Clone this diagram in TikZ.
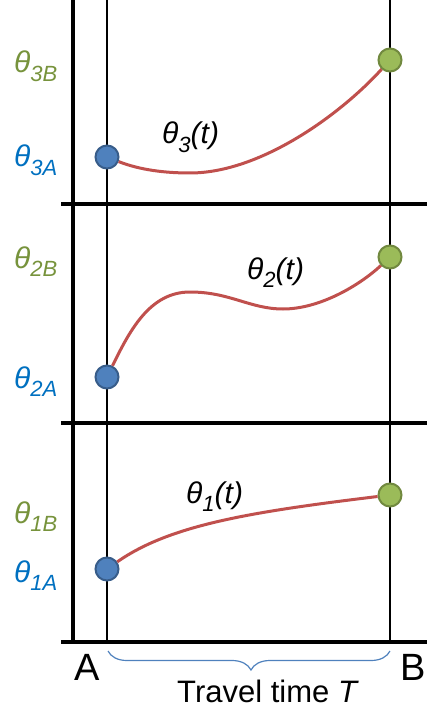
\documentclass[tikz,border=0pt]{standalone}
\usepackage{fontspec}
\setmainfont{Liberation Sans}
\usetikzlibrary{decorations.pathreplacing}

\definecolor{dotblue}{HTML}{4F81BD}
\definecolor{dotblueline}{HTML}{385D8A}
\definecolor{dotgreen}{HTML}{9BBB59}
\definecolor{dotgreenline}{HTML}{71893F}
\definecolor{curvered}{HTML}{C0504D}
\definecolor{labblue}{HTML}{0070C0}
\definecolor{labgreen}{HTML}{77933C}

\newcommand{\thlab}[1]{\textit{θ}\raisebox{-0.28em}{\fontsize{22}{22}\selectfont\textit{#1}}}
\newcommand{\thfun}[1]{\textit{θ\raisebox{-0.28em}{\fontsize{22}{22}\selectfont #1}(t)}}

\begin{document}
\begin{tikzpicture}[x=1pt, y=-1pt,
  startdot/.style={circle, fill=dotblue, draw=dotblueline, line width=2pt, minimum size=23pt, inner sep=0pt},
  enddot/.style={circle, fill=dotgreen, draw=dotgreenline, line width=2pt, minimum size=23pt, inner sep=0pt},
  traj/.style={curvered, line width=3pt},
  lab/.style={anchor=base west, inner sep=0pt, font=\fontsize{30}{32}\selectfont}]
\useasboundingbox (0,0) rectangle (427,708);

% axes and joint bands
\draw[line width=3.5pt] (73,0) -- (73,642);
\foreach \y in {204,423,642}
  \draw[line width=3.5pt] (61,\y) -- (427,\y);
\draw[line width=1.3pt] (107,0) -- (107,642);
\draw[line width=1.3pt] (390,0) -- (390,642);

% joint 3
\node[startdot] (a3) at (107,157) {};
\node[enddot] (b3) at (390,60) {};
\draw[traj] (a3) .. controls (140,170) and (165,173) .. (190,173)
  .. controls (260,173) and (340,115) .. (b3);
\node[lab, text=labgreen] (l3b) at (14,73) {\thlab{3B}};
\node[lab, text=labblue] (l3a) at (14,167) {\thlab{3A}};
\node[lab] (f3) at (162,144) {\thfun{3}};

% joint 2
\node[startdot] (a2) at (107,377) {};
\node[enddot] (b2) at (390,257) {};
\draw[traj] (a2) .. controls (130,330) and (150,292) .. (190,292)
  .. controls (230,292) and (250,309) .. (283,309)
  .. controls (320,309) and (360,285) .. (b2);
\node[lab, text=labgreen] (l2b) at (14,268) {\thlab{2B}};
\node[lab, text=labblue] (l2a) at (14,388) {\thlab{2A}};
\node[lab] (f2) at (247,279) {\thfun{2}};

% joint 1
\node[startdot] (a1) at (107,569) {};
\node[enddot] (b1) at (390,495) {};
\draw[traj] (a1) .. controls (170,525) and (250,512) .. (b1);
\node[lab, text=labgreen] (l1b) at (14,523) {\thlab{1B}};
\node[lab, text=labblue] (l1a) at (14,582) {\thlab{1A}};
\node[lab] (f1) at (186,503) {\thfun{1}};

% travel time
\coordinate (bl) at (108,651);
\coordinate (br) at (390,651);
\draw[dotblue, line width=1.2pt, decorate,
  decoration={brace, mirror, amplitude=19pt, aspect=0.507}] (bl) -- (br);
\node[font=\fontsize{38}{40}\selectfont] (ptA) at (87,667) {A};
\node[font=\fontsize{38}{40}\selectfont] (ptB) at (413,667) {B};
\node[anchor=base, inner sep=1pt, font=\fontsize{31}{33}\selectfont] (tt) at (268,702) {Travel time \textit{T}};
\end{tikzpicture}
\end{document}
